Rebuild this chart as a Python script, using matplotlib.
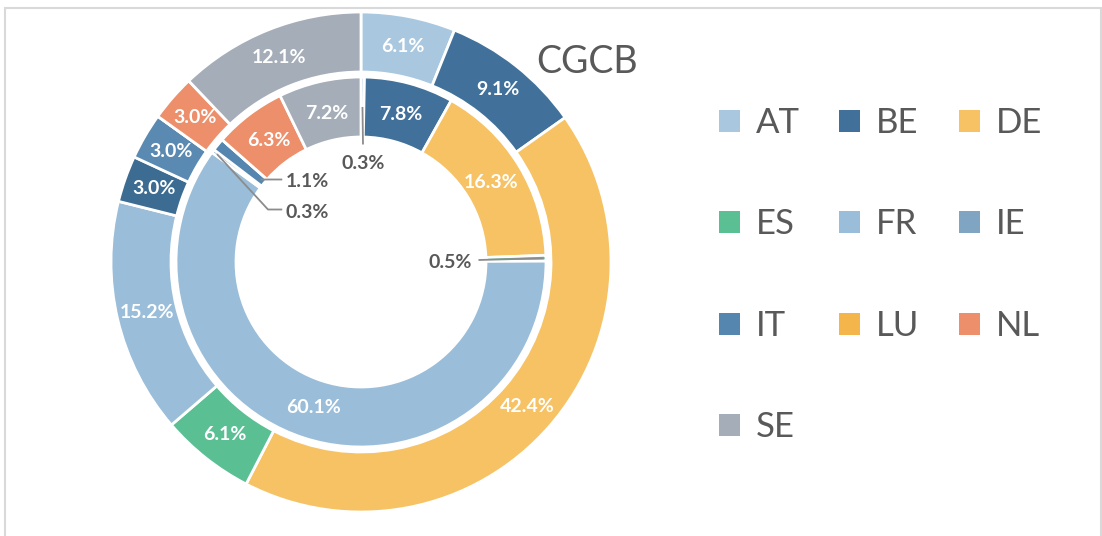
import numpy as np
import matplotlib
matplotlib.use("Agg")
import matplotlib.pyplot as plt
from matplotlib.patches import Rectangle, Patch

plt.rcParams['font.family'] = ['Lato', 'DejaVu Sans']

countries = ['AT', 'BE', 'DE', 'ES', 'FR', 'IE', 'IT', 'LU', 'NL', 'SE']
outer_vals = [6.1, 9.1, 42.4, 6.1, 15.2, 3.0, 3.0, 0.0, 3.0, 12.1]
inner_vals = [0.3, 7.8, 16.3, 0.5, 60.1, 0.3, 1.1, 0.0, 6.3, 7.2]
title = 'CGCB'

colors = ['#A9C8DF', '#41719A', '#F6C264', '#5BBF94', '#9ABDD9',
          '#7FA5C2', '#5486AF', '#F4B54A', '#EC8F6A', '#A5ADB8']
# outer ring shows IE / IT a bit darker than the legend swatches
outer_colors = list(colors)
outer_colors[5] = '#3C6C92'
outer_colors[6] = '#5A89B1'

gray = '#595959'

fig = plt.figure(figsize=(11.02, 5.36), dpi=100)
fig.patches.append(Rectangle((5 / 1102, -0.1), 1096 / 1102, 1.1 - 8 / 536,
                             transform=fig.transFigure, fill=False,
                             edgecolor='#D9D9D9', linewidth=1.5))

ax = fig.add_axes([111 / 1102, 24 / 536, 500 / 1102, 500 / 536])
wp = dict(edgecolor='white', linewidth=2)
w_out, _ = ax.pie(outer_vals, radius=1.0, colors=outer_colors, startangle=90,
                  counterclock=False, wedgeprops=dict(width=0.24, **wp))
w_in, _ = ax.pie(inner_vals, radius=0.74, colors=colors, startangle=90,
                 counterclock=False, wedgeprops=dict(width=0.24, **wp))
ax.set_xlim(-1, 1)
ax.set_ylim(-1, 1)
ax.axis('off')


def mid_point(w, r):
    a = np.deg2rad((w.theta1 + w.theta2) / 2)
    return r * np.cos(a), r * np.sin(a)


lab_kw = dict(fontsize=14, fontweight='bold', ha='center', va='center')
for w, v in zip(w_out, outer_vals):
    if v > 0:
        x, y = mid_point(w, 0.88)
        ax.text(x, y, f'{v:.1f}%', color='white', **lab_kw)

# small inner slices get a leader line: (ring radius, elbow point, text pos, ha)
leaders = {
    'AT': (0.62, (0.008, 0.47), (0.008, 0.395), 'center'),
    'ES': (0.73, (0.47, 0.008), (0.445, 0.0), 'right'),
    'IE': (0.72, (-0.372, 0.21), (-0.3, 0.2), 'left'),
    'IT': (0.52, (-0.364, 0.33), (-0.3, 0.322), 'left'),
}
for w, v, c in zip(w_in, inner_vals, countries):
    if v <= 0:
        continue
    if c in leaders:
        r, elbow, tpos, ha = leaders[c]
        x, y = mid_point(w, r)
        xs = [x, elbow[0]]
        ys = [y, elbow[1]]
        if ha == 'left':
            xs.append(tpos[0] - 0.015)
            ys.append(elbow[1])
        ax.plot(xs, ys, color='#8C8C8C', lw=1.3, solid_capstyle='butt')
        ax.text(tpos[0], tpos[1], f'{v:.1f}%', color=gray,
                fontsize=14, fontweight='bold', ha=ha, va='center')
    else:
        x, y = mid_point(w, 0.61)
        ax.text(x, y, f'{v:.1f}%', color='white', **lab_kw)

fig.text(536 / 1102, 1 - 62 / 536, title, fontsize=27, color=gray,
         ha='left', va='center')

# legend in row-major order, 3 columns
order = [0, 3, 6, 9, 1, 4, 7, 2, 5, 8]
handles = [Patch(facecolor=colors[i], edgecolor='none') for i in order]
labels = [countries[i] for i in order]
fig.legend(handles, labels, ncol=3, loc='upper left',
           bbox_to_anchor=(719 / 1102, 1 - 107 / 536), frameon=False,
           fontsize=25, labelcolor=gray, handlelength=0.6, handleheight=0.6,
           handletextpad=0.45, columnspacing=1.15, labelspacing=2.0,
           borderpad=0, borderaxespad=0)

fig.savefig('out.png', dpi=100)
